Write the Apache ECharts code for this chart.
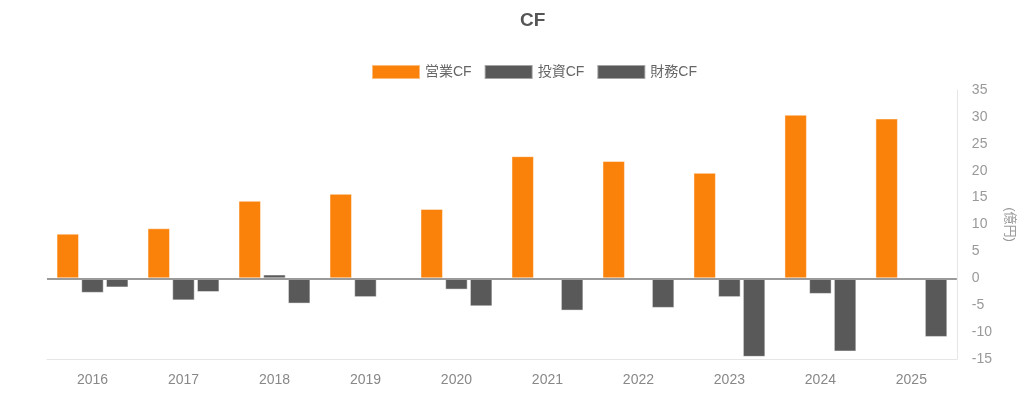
<!DOCTYPE html>
<html>
<head>
<meta charset="utf-8">
<script src="https://cdn.jsdelivr.net/npm/echarts@6/dist/echarts.min.js"></script>
<style>
html,body{margin:0;padding:0;background:#fff;}
#c{width:1024px;height:393px;}
</style>
</head>
<body>
<div id="c"></div>
<script>
const years = ['2016','2017','2018','2019','2020','2021','2022','2023','2024','2025'];
const operatingCF = [8.3, 9.3, 14.4, 15.7, 12.9, 22.7, 21.8, 19.6, 30.4, 29.7];
const investingCF = [-2.7, -4.1, 0.7, -3.5, -2.1, 0, 0, -3.5, -2.9, 0];
const financingCF = [-1.7, -2.55, -4.7, 0, -5.2, -6.0, -5.5, -14.6, -13.6, -10.9];
const seriesNames = ['営業CF', '投資CF', '財務CF'];

const FONT = '"Liberation Sans", Arial, "Noto Sans CJK JP", sans-serif';
const chart = echarts.init(document.getElementById('c'), null, {renderer: 'canvas'});
const barStyle = (color) => ({
  color: color,
  borderColor: 'rgba(255,255,255,0.45)',
  borderWidth: 1
});
chart.setOption({
  animation: false,
  textStyle: {fontFamily: FONT},
  title: {
    text: 'CF',
    left: 520,
    top: 11,
    padding: 0,
    textStyle: {fontSize: 19, fontWeight: 'bold', color: '#555', fontFamily: FONT}
  },
  legend: {
    left: 371,
    top: 64,
    padding: 0,
    icon: 'rect',
    itemWidth: 48,
    itemHeight: 14,
    itemGap: 12,
    textStyle: {fontSize: 14, color: '#666', fontFamily: FONT},
    data: seriesNames
  },
  grid: {left: 47, right: 63, top: 90, bottom: 34, containLabel: false},
  xAxis: {
    type: 'category',
    data: years,
    axisLine: {onZero: false, lineStyle: {color: '#e6e6e6', width: 1}},
    axisTick: {show: false},
    axisLabel: {color: '#888', fontSize: 14, margin: 14, fontFamily: FONT},
    splitLine: {show: false}
  },
  yAxis: {
    type: 'value',
    position: 'right',
    min: -15,
    max: 35,
    interval: 5,
    name: '(億円)',
    nameLocation: 'middle',
    nameRotate: -90,
    nameGap: 46,
    nameTextStyle: {color: '#999', fontSize: 13, fontFamily: FONT},
    axisLine: {show: true, lineStyle: {color: '#e6e6e6'}},
    axisTick: {show: false},
    axisLabel: {color: '#999', fontSize: 14, margin: 15, fontFamily: FONT},
    splitLine: {show: false}
  },
  series: [
    {
      name: seriesNames[0], type: 'bar', data: operatingCF,
      barCategoryGap: '21%', barGap: '10%',
      itemStyle: barStyle('#fa820a'),
      markLine: {
        silent: true, symbol: 'none', label: {show: false},
        lineStyle: {color: '#9a9a9a', type: 'solid', width: 2},
        data: [{yAxis: 0}]
      }
    },
    {
      name: seriesNames[1], type: 'bar', data: investingCF,
      barCategoryGap: '21%', barGap: '10%',
      itemStyle: barStyle('#595959')
    },
    {
      name: seriesNames[2], type: 'bar', data: financingCF,
      barCategoryGap: '21%', barGap: '10%',
      itemStyle: barStyle('#595959')
    }
  ]
});
</script>
</body>
</html>
